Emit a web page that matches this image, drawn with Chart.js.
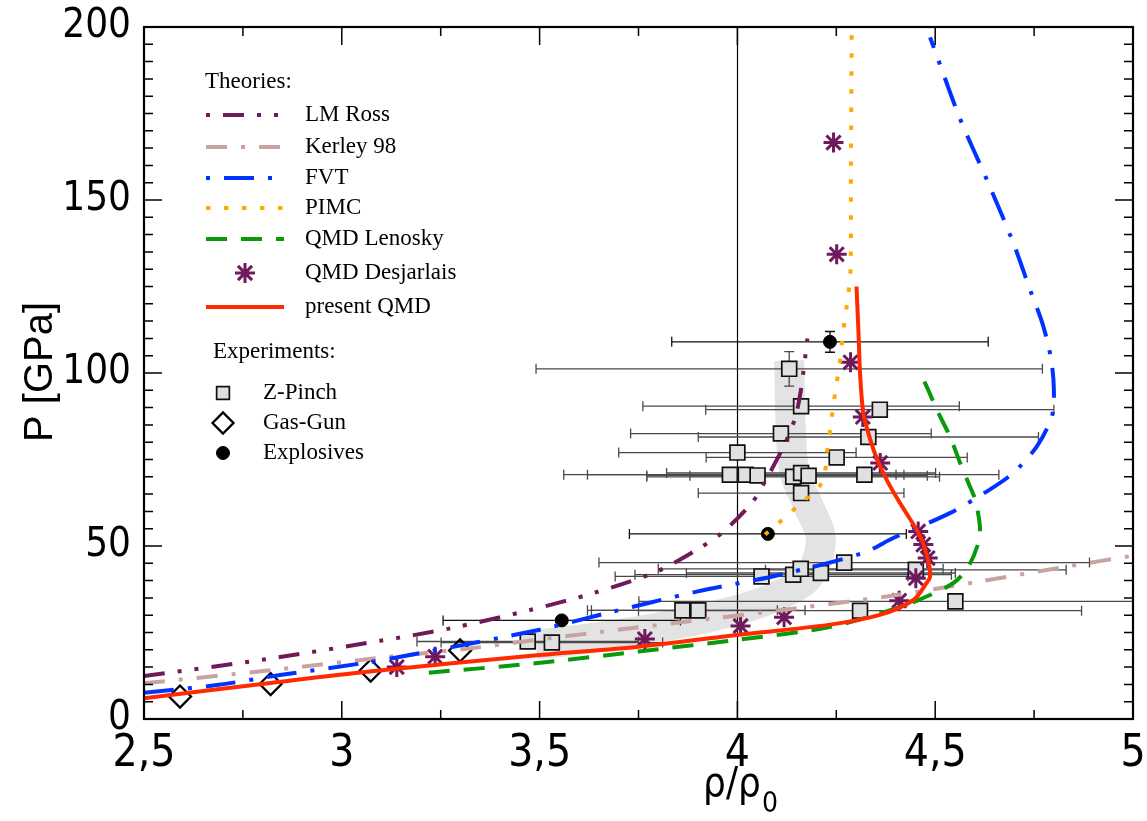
<!DOCTYPE html>
<html>
<head>
<meta charset="utf-8">
<script src="https://cdn.jsdelivr.net/npm/chart.js@4.4.0/dist/chart.umd.min.js"></script>
<style>
  body { margin: 0; background: #fff; }
  #wrap { width: 1147px; height: 821px; }
</style>
</head>
<body>
<div id="wrap"><canvas id="hugoniot"></canvas></div>
<script>
// x = rho/rho0, y = P [GPa]
const bandX = [3.49, 3.64, 3.85, 4.00, 4.10, 4.17, 4.20, 4.21, 4.18, 4.145, 4.135, 4.131];
const bandY = [21.5, 23.5, 27.5, 31.5, 35.5, 40.0, 45.5, 53.0, 61.5, 71.0, 83.6, 103.6];

const rossX = [2.50, 2.81, 3.097, 3.274, 3.476, 3.636, 3.796, 3.897, 3.960, 4.036, 4.070, 4.104, 4.125, 4.146, 4.158, 4.167, 4.177];
const rossY = [12.4, 17.3, 22.6, 26.2, 31.5, 36.4, 42.6, 48.9, 53.7, 62.4, 68.7, 75.9, 80.8, 87.0, 93.3, 100.5, 110.0];

const kerleyX = [2.50, 2.827, 3.122, 3.332, 3.459, 3.729, 3.939, 4.150, 4.377, 4.605, 4.824, 5.0];
const kerleyY = [10.3, 14.2, 18.0, 20.5, 22.4, 26.2, 29.1, 32.0, 35.4, 39.6, 43.9, 47.2];

const fvtX = [2.50, 2.684, 2.844, 3.063, 3.206, 3.50, 3.67, 3.897, 4.108, 4.318, 4.394, 4.537, 4.638, 4.697, 4.757, 4.795, 4.800, 4.793, 4.772, 4.74, 4.697, 4.630, 4.563, 4.504, 4.487];
const fvtY = [7.6, 9.8, 12.7, 16.3, 19.2, 25.8, 30.6, 36.8, 41.7, 48.0, 52.3, 59.5, 66.3, 71.1, 78.8, 87.5, 95.2, 104.0, 114.0, 124.0, 137.7, 156.0, 173.4, 191.7, 197.0];

const pimcX = [4.070, 4.104, 4.137, 4.171, 4.205, 4.221, 4.226, 4.232, 4.238, 4.244, 4.251, 4.258, 4.268, 4.280, 4.286, 4.287, 4.289];
const pimcY = [53.3, 56.6, 60.0, 63.4, 66.8, 71.3, 76.4, 81.5, 86.7, 91.8, 97.2, 102.2, 112.6, 122.4, 130.0, 160.0, 200.0];

const lenoskyX = [3.22, 3.49, 3.75, 4.00, 4.23, 4.377, 4.462, 4.546, 4.584, 4.609, 4.613, 4.601, 4.584, 4.563, 4.537, 4.504, 4.478, 4.457];
const lenoskyY = [13.4, 16.1, 19.5, 22.9, 26.5, 31.1, 34.6, 39.3, 44.1, 50.9, 55.7, 63.4, 68.2, 74.0, 81.7, 89.4, 96.2, 101.0];

const qmdX = [2.50, 2.82, 3.07, 3.50, 3.75, 4.00, 4.23, 4.36, 4.445, 4.478, 4.487, 4.483, 4.462, 4.411, 4.377, 4.35, 4.33, 4.318, 4.310, 4.306, 4.301];
const qmdY = [6.0, 10.4, 13.7, 18.5, 20.9, 24.3, 27.2, 30.1, 34.4, 39.3, 41.2, 45.5, 52.8, 62.4, 69.2, 76.0, 83.0, 88.5, 100.0, 112.0, 125.0];

const desjX = [3.139, 3.236, 3.766, 4.008, 4.118, 4.409, 4.451, 4.481, 4.470, 4.457, 4.361, 4.317, 4.286, 4.251, 4.243];
const desjY = [15.0, 18.0, 23.1, 26.9, 29.4, 34.2, 40.7, 46.5, 50.4, 54.2, 74.0, 87.3, 103.1, 134.3, 166.6];

// experiments
const zpX = [3.470, 3.531, 3.861, 3.901, 4.310, 4.551, 4.061, 4.141, 4.160, 4.211, 4.270, 4.451, 4.161, 3.981, 4.021, 4.051, 4.141, 4.161, 4.180, 4.321, 4.000, 4.251, 4.110, 4.331, 4.161, 4.360, 4.131];
const zpY = [22.4, 22.1, 31.4, 31.4, 31.3, 34.0, 41.2, 41.7, 43.4, 42.2, 45.2, 43.1, 65.3, 70.6, 70.6, 70.4, 70.0, 71.1, 70.3, 70.6, 77.0, 75.6, 82.5, 81.5, 90.4, 89.4, 101.2];
const zpXerr = [0.28, 0.28, 0.24, 0.27, 0.56, 0.80, 0.37, 0.40, 0.36, 0.34, 0.62, 0.38, 0.26, 0.42, 0.40, 0.28, 0.37, 0.34, 0.30, 0.34, 0.30, 0.33, 0.38, 0.43, 0.40, 0.44, 0.64];
const zpYerr = [0, 0, 0, 0, 0, 0, 0, 0, 0, 0, 0, 0, 0, 0, 0, 0, 0, 0, 0, 0, 0, 0, 0, 0, 0.8, 1.2, 5.0];

const gasX = [2.591, 2.820, 3.073, 3.299];
const gasY = [6.5, 10.1, 14.0, 19.8];

const exX = [3.556, 4.077, 4.234];
const exY = [28.5, 53.5, 109.0];
const exXerr = [0.30, 0.35, 0.40];
const exYerr = [0, 0, 3.0];

const xTicks = [2.5, 3, 3.5, 4, 4.5, 5];
const yTicks = [0, 50, 100, 150, 200];

const pts = (xs, ys) => xs.map((x, i) => ({ x: x, y: ys[i] }));
const NARROW = '"Liberation Sans Narrow", "DejaVu Sans Condensed", sans-serif';
const SERIF = '"Liberation Serif", "DejaVu Serif", serif';

function curve(label, xs, ys, color, dash, order) {
  return {
    label: label, data: pts(xs, ys), showLine: true, pointRadius: 0,
    borderColor: color, borderWidth: 4, borderDash: dash, tension: 0.3, order: order
  };
}

const datasets = [
  { label: 'band', data: pts(bandX, bandY), showLine: true, pointRadius: 0,
    borderColor: '#e3e3e3', borderWidth: 30, tension: 0.35, order: 20 },
  { label: 'Z-Pinch', data: pts(zpX, zpY), pointStyle: 'rect', pointRadius: 10.5,
    backgroundColor: '#e0e0e0', borderColor: '#111', borderWidth: 1.7, order: 15 },
  { label: 'Gas-Gun', data: pts(gasX, gasY), pointStyle: 'rectRot', pointRadius: 11,
    backgroundColor: 'rgba(255,255,255,0)', borderColor: '#000', borderWidth: 2.3, order: 14 },
  { label: 'Explosives', data: pts(exX, exY), pointStyle: 'circle', pointRadius: 6.5,
    backgroundColor: '#000', borderColor: '#000', borderWidth: 1, order: 13 },
  { label: 'QMD Desjarlais', data: pts(desjX, desjY), pointStyle: 'star', pointRadius: 10,
    borderColor: '#6e1a5c', backgroundColor: '#6e1a5c', borderWidth: 3, order: 12 },
  curve('Kerley 98', kerleyX, kerleyY, '#c9a2a2', [21, 14, 4, 14], 6),
  curve('LM Ross', rossX, rossY, '#701a5a', [21, 13, 4, 13, 4, 13], 5),
  curve('FVT', fvtX, fvtY, '#0033ff', [30, 14, 4, 14], 4),
  curve('QMD Lenosky', lenoskyX, lenoskyY, '#0a990a', [21, 14], 3),
  curve('PIMC', pimcX, pimcY, '#ffaa00', [4.5, 13.5], 2),
  curve('present QMD', qmdX, qmdY, '#ff2a00', [], 1)
];
datasets.forEach(d => { d.clip = 0; });
datasets[0].clip = 2;

function drawErrors(ctx, xs, ys, xv, yv, xe, ye, color) {
  ctx.strokeStyle = color;
  ctx.lineWidth = 1.3;
  for (let i = 0; i < xv.length; i++) {
    const py = ys.getPixelForValue(yv[i]);
    const px = xs.getPixelForValue(xv[i]);
    const x0 = xs.getPixelForValue(xv[i] - xe[i]);
    const x1 = xs.getPixelForValue(xv[i] + xe[i]);
    ctx.beginPath();
    ctx.moveTo(x0, py); ctx.lineTo(x1, py);
    ctx.moveTo(x0, py - 5); ctx.lineTo(x0, py + 5);
    ctx.moveTo(x1, py - 5); ctx.lineTo(x1, py + 5);
    if (ye[i] > 0) {
      const y0 = ys.getPixelForValue(yv[i] - ye[i]);
      const y1 = ys.getPixelForValue(yv[i] + ye[i]);
      ctx.moveTo(px, y0); ctx.lineTo(px, y1);
      ctx.moveTo(px - 5, y0); ctx.lineTo(px + 5, y0);
      ctx.moveTo(px - 5, y1); ctx.lineTo(px + 5, y1);
    }
    ctx.stroke();
  }
}

const frame = {
  id: 'frame',
  afterDatasetDraw(chart, args) {
    if (args.index !== 0) return;
    const ctx = chart.ctx, a = chart.chartArea, x = chart.scales.x, y = chart.scales.y;
    ctx.save();
    ctx.beginPath();
    ctx.rect(a.left, a.top, a.right - a.left, a.bottom - a.top);
    ctx.clip();
    const x4 = Math.round(x.getPixelForValue(4)) + 0.5;
    ctx.strokeStyle = '#000';
    ctx.lineWidth = 1.2;
    ctx.beginPath(); ctx.moveTo(x4, a.top); ctx.lineTo(x4, a.bottom); ctx.stroke();
    drawErrors(ctx, x, y, zpX, zpY, zpXerr, zpYerr, '#4a4a4a');
    drawErrors(ctx, x, y, exX, exY, exXerr, exYerr, '#111');
    ctx.restore();
  },
  afterDraw(chart) {
    const ctx = chart.ctx, a = chart.chartArea, x = chart.scales.x, y = chart.scales.y;
    ctx.save();
    // inward ticks on all four sides
    ctx.strokeStyle = '#000';
    ctx.lineWidth = 1.5;
    ctx.beginPath();
    for (let v = 2.5; v <= 5.0001; v += 0.25) {
      const px = x.getPixelForValue(v);
      const len = Math.abs(v * 2 - Math.round(v * 2)) < 1e-6 ? 18 : 9;
      ctx.moveTo(px, a.bottom); ctx.lineTo(px, a.bottom - len);
      ctx.moveTo(px, a.top); ctx.lineTo(px, a.top + len);
    }
    for (let v = 0; v <= 200; v += 5) {
      const py = y.getPixelForValue(v);
      const len = v % 50 === 0 ? 18 : 9;
      ctx.moveTo(a.left, py); ctx.lineTo(a.left + len, py);
      ctx.moveTo(a.right, py); ctx.lineTo(a.right - len, py);
    }
    ctx.stroke();
    ctx.lineWidth = 2.2;
    ctx.strokeRect(a.left, a.top, a.right - a.left, a.bottom - a.top);

    // axis titles
    ctx.fillStyle = '#000';
    ctx.textBaseline = 'alphabetic';
    ctx.font = '40px "Liberation Sans", Arial, sans-serif';
    ctx.save();
    ctx.translate(52, 372);
    ctx.rotate(-Math.PI / 2);
    ctx.textAlign = 'center';
    ctx.fillText('P [GPa]', 0, 0);
    ctx.restore();
    ctx.textAlign = 'left';
    ctx.font = '40px ' + NARROW;
    const main = 'ρ/ρ';
    const w = ctx.measureText(main).width;
    ctx.font = '28px ' + NARROW;
    const ws = ctx.measureText('0').width;
    const sx = 740 - (w + ws) / 2;
    ctx.font = '40px ' + NARROW;
    ctx.fillText(main, sx, 796);
    ctx.font = '28px ' + NARROW;
    ctx.fillText('0', sx + w + 1, 812);

    // legend
    const ds = chart.data.datasets;
    const byLabel = l => ds.find(d => d.label === l);
    ctx.font = '23px ' + SERIF;
    ctx.textBaseline = 'middle';
    ctx.fillText('Theories:', 205, 82);
    const rows = ['LM Ross', 'Kerley 98', 'FVT', 'PIMC', 'QMD Lenosky', 'QMD Desjarlais', 'present QMD'];
    const rowY = [115, 147, 178, 208, 239, 273, 307];
    const offsets = { 'LM Ross': 51, 'FVT': 44 };
    rows.forEach((l, i) => {
      const d = byLabel(l);
      const ry = rowY[i];
      if (d.showLine) {
        ctx.save();
        ctx.strokeStyle = d.borderColor;
        ctx.lineWidth = d.borderWidth;
        ctx.setLineDash(d.borderDash);
        ctx.lineDashOffset = offsets[l] || 0;
        ctx.beginPath(); ctx.moveTo(206, ry); ctx.lineTo(284, ry); ctx.stroke();
        ctx.restore();
      } else {
        ctx.save();
        ctx.strokeStyle = d.borderColor; ctx.fillStyle = d.backgroundColor; ctx.lineWidth = d.borderWidth;
        Chart.helpers.drawPoint(ctx, { pointStyle: d.pointStyle, radius: d.pointRadius, borderWidth: d.borderWidth, rotation: 0 }, 245, ry);
        ctx.restore();
      }
      ctx.fillStyle = '#000';
      ctx.fillText(l, 305, ry);
    });
    ctx.fillText('Experiments:', 213, 352);
    const exRows = ['Z-Pinch', 'Gas-Gun', 'Explosives'];
    const exRowY = [393, 423, 453];
    const exRad = [9, 10.5, 6.5];
    exRows.forEach((l, i) => {
      const d = byLabel(l);
      ctx.save();
      ctx.strokeStyle = d.borderColor; ctx.fillStyle = d.backgroundColor; ctx.lineWidth = d.borderWidth;
      Chart.helpers.drawPoint(ctx, { pointStyle: d.pointStyle, radius: exRad[i], borderWidth: d.borderWidth, rotation: 0 }, 223, exRowY[i]);
      ctx.restore();
      ctx.fillStyle = '#000';
      ctx.fillText(l, 263, exRowY[i]);
    });
    ctx.restore();
  }
};

new Chart(document.getElementById('hugoniot'), {
  type: 'scatter',
  data: { datasets: datasets },
  plugins: [frame],
  options: {
    responsive: true,
    maintainAspectRatio: false,
    animation: false,
    events: [],
    layout: { padding: { top: 27, right: 14, left: 0, bottom: 0 } },
    plugins: { legend: { display: false }, tooltip: { enabled: false } },
    scales: {
      x: {
        type: 'linear', min: 2.5, max: 5,
        afterFit: s => { s.height = 102; s.paddingLeft = 0; s.paddingRight = 0; },
        afterBuildTicks: s => { s.ticks = xTicks.map(v => ({ value: v })); },
        grid: { display: false, drawTicks: false },
        border: { display: false },
        ticks: {
          padding: 9, color: '#000',
          font: { family: NARROW, size: 44 },
          callback: v => String(v).replace('.', ',')
        }
      },
      y: {
        type: 'linear', min: 0, max: 200,
        afterFit: s => { s.width = 144; s.paddingTop = 0; s.paddingBottom = 0; },
        afterBuildTicks: s => { s.ticks = yTicks.map(v => ({ value: v })); },
        grid: { display: false, drawTicks: false },
        border: { display: false },
        ticks: {
          padding: 13, color: '#000',
          font: { family: NARROW, size: 40 }
        }
      }
    }
  }
});
</script>
</body>
</html>
